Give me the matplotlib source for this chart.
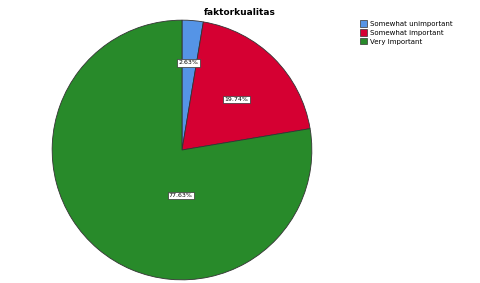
import matplotlib.pyplot as plt
from matplotlib.patches import Patch

labels = ['Somewhat unimportant', 'Somewhat important', 'Very Important']
values = [2.63, 19.74, 77.63]
colors = ['#5594E6', '#D50032', '#288A2A']
# label spots inside the pie (SPSS puts them where it likes)
label_pos = [(0.05, 0.67), (0.42, 0.39), (-0.01, -0.35)]

fig = plt.figure(figsize=(4.8, 2.83), dpi=100)
ax = fig.add_axes([(182 - 130.5) / 480, (133 - 130.5) / 283, 261 / 480, 261 / 283])

wedges, texts, autotexts = ax.pie(values, colors=colors, startangle=90, counterclock=False,
                                  radius=1, autopct='%.2f%%',
                                  wedgeprops=dict(edgecolor='#333333', linewidth=0.6),
                                  textprops=dict(fontsize=4.5, color='black'))
for t, pos in zip(autotexts, label_pos):
    t.set_position(pos)
    t.set_bbox(dict(facecolor='white', edgecolor='#333333', linewidth=0.5, pad=0.8))
ax.set_xlim(-1.005, 1.005)
ax.set_ylim(-1.005, 1.005)
ax.set_aspect('equal')
ax.axis('off')

fig.text(0.5, 0.955, 'faktorkualitas', ha='center', va='center', fontsize=6.5, fontweight='bold')

handles = [Patch(facecolor=c, edgecolor='#333333', linewidth=0.5) for c in colors]
fig.legend(handles, labels, loc='upper left', bbox_to_anchor=(0.751, 0.928), frameon=False,
           fontsize=5, handlelength=1.0, handleheight=1.0, handletextpad=0.3,
           labelspacing=0.35, borderpad=0, borderaxespad=0)

fig.savefig('out.png', dpi=100)
